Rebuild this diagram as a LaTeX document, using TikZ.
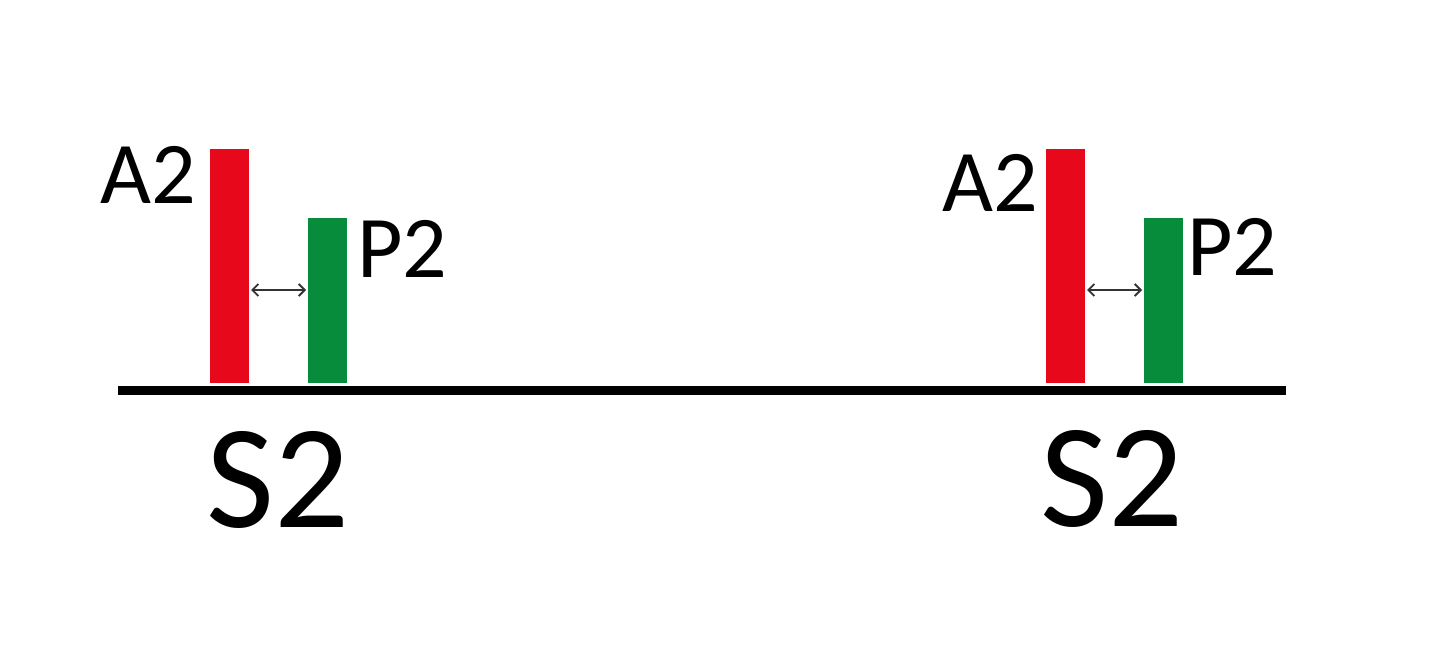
\documentclass[tikz,border=0pt]{standalone}
\usepackage{fontspec}
\setmainfont{Carlito}
\definecolor{barred}{HTML}{E8081C}
\definecolor{bargreen}{HTML}{078C3C}
\definecolor{arrgray}{HTML}{333333}
\usetikzlibrary{arrows.meta}
\tikzset{
  redbar/.style={fill=barred, draw=none},
  greenbar/.style={fill=bargreen, draw=none},
  baseline line/.style={line width=9pt, black},
  gaparrow/.style={<->, >={Straight Barb[length=6pt,width=12pt]}, line width=1.8pt, arrgray},
  smalllabel/.style={inner sep=0pt, font=\fontsize{88}{88}\selectfont},
  biglabel/.style={inner sep=0pt, font=\fontsize{148}{148}\selectfont},
}
\begin{document}
\begin{tikzpicture}[x=1pt,y=-1pt]
\useasboundingbox (0,0) rectangle (1440,658);
% baseline
\coordinate (L0) at (118,390);
\coordinate (L1) at (1286,390);
\draw[baseline line] (L0) -- (L1);
% left group
\fill[redbar] (210,149) rectangle (249,383);
\fill[greenbar] (308,218) rectangle (347,383);
\coordinate (la) at (251,290);
\coordinate (lb) at (306,290);
\draw[gaparrow] (la) -- (lb);
\node[smalllabel, anchor=base east] (a2l) at (196,203) {A2};
\node[smalllabel, anchor=base west] (p2l) at (357,277) {P2};
\node[biglabel, anchor=base] (s2l) at (278,527) {S2};
% right group
\fill[redbar] (1046,149) rectangle (1085,383);
\fill[greenbar] (1144,218) rectangle (1183,383);
\coordinate (ra) at (1087,290);
\coordinate (rb) at (1142,290);
\draw[gaparrow] (ra) -- (rb);
\node[smalllabel, anchor=base east] (a2r) at (1038,211) {A2};
\node[smalllabel, anchor=base west] (p2r) at (1187,275) {P2};
\node[biglabel, anchor=base] (s2r) at (1112,526) {S2};
\end{tikzpicture}
\end{document}
